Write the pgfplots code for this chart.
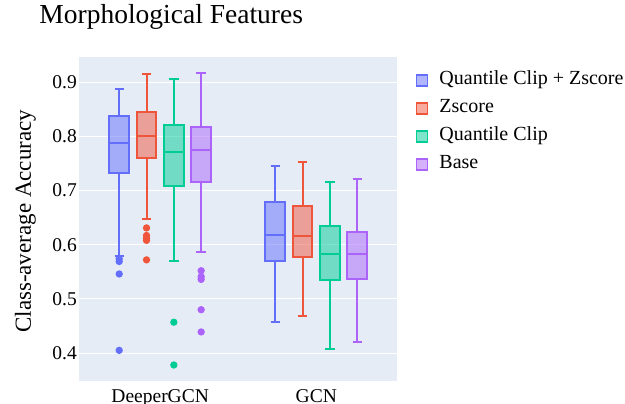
\documentclass[border=0pt]{standalone}
\usepackage{fontspec}
\setmainfont{Liberation Serif}
\usepackage{pgfplots}
\usepgfplotslibrary{statistics}
\pgfplotsset{compat=1.18}

\definecolor{cA}{HTML}{636EFA}
\definecolor{cB}{HTML}{EF553B}
\definecolor{cC}{HTML}{00CC96}
\definecolor{cD}{HTML}{AB63FA}
\definecolor{bgc}{HTML}{E5ECF6}

% plotly-like box: solid outline, half-transparent fill, solid outlier dots
\pgfplotsset{
  pbox/.style={
    draw=#1, fill=#1, fill opacity=0.5, line width=2bp,
    mark=*, mark size=2.6bp, mark options={draw=none, fill=#1, fill opacity=1},
    legend image code/.code={
      \draw[#1, line width=1.5bp, fill=#1, fill opacity=0.5] (0bp,-5.5bp) rectangle (11bp,5.5bp);},
  },
}

\begin{document}
\begin{tikzpicture}
\path[use as bounding box] (-79bp,-23.3bp) rectangle (546bp,380.7bp);
\begin{axis}[
    at={(0,0)}, anchor=south west,
    scale only axis, width=317.7bp, height=324bp,
    xmin=-0.52, xmax=1.515, ymin=0.349, ymax=0.947,
    xtick={0,1}, xticklabels={DeeperGCN, GCN},
    ytick={0.4,0.5,0.6,0.7,0.8,0.9},
    ymajorgrids, grid style={white, line width=1bp},
    axis line style={draw=none}, major tick length=0,
    axis background/.style={fill=bgc},
    tick label style={font=\fontsize{19.5bp}{23bp}\selectfont, inner sep=0},
    yticklabel style={anchor=east, xshift=-2bp,
      /pgf/number format/fixed, /pgf/number format/fixed zerofill,
      /pgf/number format/precision=1, /pgf/number format/assume math mode=true},
    xticklabel style={anchor=base, yshift=-21.5bp},
    title={Morphological Features},
    title style={at={(rel axis cs:0,1)}, anchor=base west, xshift=-39.7bp, yshift=27.4bp,
      inner sep=0, font=\fontsize{27.5bp}{32bp}\selectfont},
    ylabel={Class-average Accuracy},
    every axis y label/.style={at={(rel axis cs:0,0.492)}, rotate=90, anchor=base,
      yshift=48bp, inner sep=0, font=\fontsize{23bp}{27bp}\selectfont},
    boxplot/draw direction=y,
    boxplot/box extend=0.126, boxplot/whisker extend=0.06,
    legend cell align=left,
    legend style={at={(rel axis cs:1.0607,0.956)}, anchor=north west,
      draw=none, fill=none, inner sep=0, outer sep=0,
      row sep=9bp, column sep=11bp,
      font=\fontsize{20bp}{24bp}\selectfont,
      nodes={inner sep=0, text height=14bp, text depth=5bp}},
]

% DeeperGCN
\addplot[pbox=cA, boxplot prepared={draw position=-0.2625,
    lower whisker=0.580, lower quartile=0.733, median=0.788,
    upper quartile=0.838, upper whisker=0.888}]
  table[row sep=\\, y index=0] {y\\ 0.574\\ 0.569\\ 0.546\\ 0.405\\};
\addlegendentry{Quantile Clip + Zscore}
\addplot[pbox=cB, boxplot prepared={draw position=-0.0875,
    lower whisker=0.648, lower quartile=0.760, median=0.800,
    upper quartile=0.845, upper whisker=0.915}]
  table[row sep=\\, y index=0] {y\\ 0.631\\ 0.617\\ 0.612\\ 0.608\\ 0.572\\};
\addlegendentry{Zscore}
\addplot[pbox=cC, boxplot prepared={draw position=0.0875,
    lower whisker=0.570, lower quartile=0.709, median=0.771,
    upper quartile=0.821, upper whisker=0.906}]
  table[row sep=\\, y index=0] {y\\ 0.457\\ 0.378\\};
\addlegendentry{Quantile Clip}
\addplot[pbox=cD, boxplot prepared={draw position=0.2625,
    lower whisker=0.587, lower quartile=0.715, median=0.775,
    upper quartile=0.818, upper whisker=0.916}]
  table[row sep=\\, y index=0] {y\\ 0.552\\ 0.541\\ 0.536\\ 0.480\\ 0.439\\};
\addlegendentry{Base}

% GCN
\addplot[pbox=cA, forget plot, boxplot prepared={draw position=0.7375,
    lower whisker=0.458, lower quartile=0.570, median=0.617,
    upper quartile=0.678, upper whisker=0.745}] coordinates {};
\addplot[pbox=cB, forget plot, boxplot prepared={draw position=0.9125,
    lower whisker=0.468, lower quartile=0.578, median=0.616,
    upper quartile=0.672, upper whisker=0.753}] coordinates {};
\addplot[pbox=cC, forget plot, boxplot prepared={draw position=1.0875,
    lower whisker=0.407, lower quartile=0.535, median=0.583,
    upper quartile=0.634, upper whisker=0.715}] coordinates {};
\addplot[pbox=cD, forget plot, boxplot prepared={draw position=1.2625,
    lower whisker=0.421, lower quartile=0.537, median=0.583,
    upper quartile=0.624, upper whisker=0.722}] coordinates {};

\end{axis}
\end{tikzpicture}
\end{document}
